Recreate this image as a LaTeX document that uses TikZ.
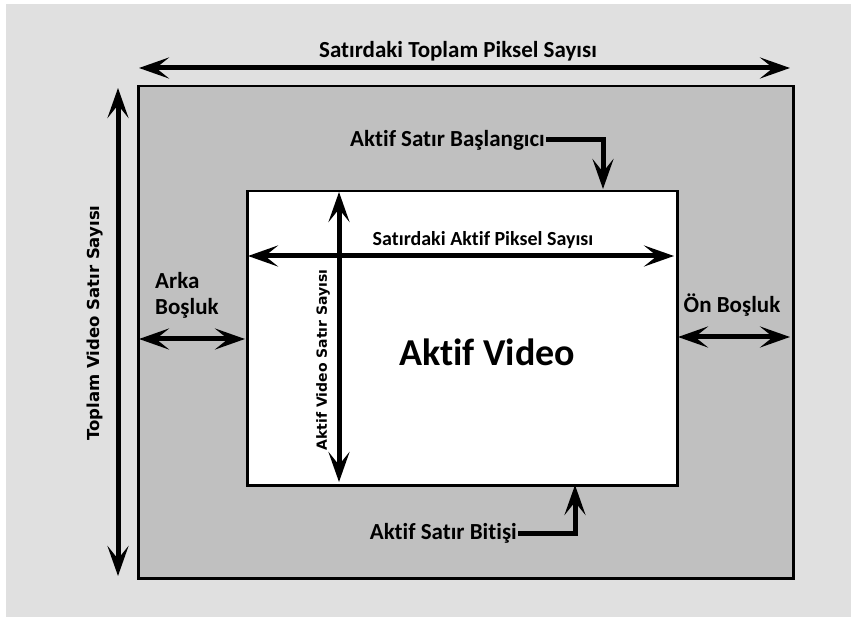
\documentclass[tikz,border=0pt]{standalone}
\usepackage{fontspec}
\setmainfont{Carlito}[Ligatures=NoCommon]
\newfontfamily\widefont{DejaVu Sans}
\usetikzlibrary{arrows.meta}
\definecolor{pagebg}{RGB}{224,224,224}
\definecolor{blankfill}{RGB}{192,192,192}
\begin{document}
\begin{tikzpicture}[x=1pt,y=-1pt,
  dimarrow/.style={line width=5pt,{Stealth[length=30pt,width=21pt,inset=13pt]}-{Stealth[length=30pt,width=21pt,inset=13pt]}},
  pointer/.style={line width=5pt,-{Stealth[length=30pt,width=21pt,inset=13pt]}},
  lbl/.style={font=\bfseries, inner sep=1pt},
  vlbl/.style={font=\widefont\bfseries, inner sep=1pt, rotate=90}]
  % page
  \fill[white] (0,0) rectangle (857,617);
  \fill[pagebg] (6,4) rectangle (851,617);
  \useasboundingbox (0,0) rectangle (857,617);
  % frame regions
  \node[draw, line width=2.5pt, fill=blankfill, minimum width=655pt, minimum height=492pt, inner sep=0pt, anchor=north west] (outer) at (137,85) {};
  \node[draw, line width=2.5pt, fill=white, minimum width=430pt, minimum height=294pt, inner sep=0pt, anchor=north west] (inner) at (246,190) {};
  % total pixels per line
  \coordinate (tl) at (139,68);
  \coordinate (tr) at (790,68);
  \draw[dimarrow] (tl) -- (tr);
  \node[lbl, font=\fontsize{23}{27}\bfseries] (totpix) at (458,51) {Satırdaki Toplam Piksel Sayısı};
  % total lines
  \coordinate (vt) at (118,88);
  \coordinate (vb) at (118,576);
  \draw[dimarrow] (vt) -- (vb);
  \node[vlbl, font=\fontsize{16.5}{19}\widefont\bfseries] (totlines) at (95,323) {Toplam Video Satır Sayısı};
  % active line start
  \node[lbl, font=\fontsize{23}{27}\bfseries, anchor=east] (start) at (546,140) {Aktif Satır Başlangıcı};
  \coordinate (startbend) at (603,140);
  \coordinate (starttip) at (603,189);
  \draw[pointer] (start.east) -- (startbend) -- (starttip);
  % active line end
  \node[lbl, font=\fontsize{23}{27}\bfseries, anchor=east] (stop) at (518,533) {Aktif Satır Bitişi};
  \coordinate (stopbend) at (575,533);
  \coordinate (stoptip) at (575,485);
  \draw[pointer] (stop.east) -- (stopbend) -- (stoptip);
  % active pixels per line
  \coordinate (al) at (248,256);
  \coordinate (ar) at (674,256);
  \draw[dimarrow] (al) -- (ar);
  \node[lbl, font=\fontsize{20}{24}\bfseries] (actpix) at (483,240) {Satırdaki Aktif Piksel Sayısı};
  % active lines
  \coordinate (avt) at (339,192);
  \coordinate (avb) at (339,482);
  \draw[dimarrow] (avt) -- (avb);
  \node[vlbl, font=\fontsize{14}{17}\widefont\bfseries] (actlines) at (323,360) {Aktif Video Satır Sayısı};
  % active video
  \node[lbl, font=\fontsize{38}{44}\bfseries] (video) at (487,352) {Aktif Video};
  % back porch
  \node[lbl, font=\fontsize{23}{26}\bfseries, align=left, anchor=west] (back) at (154,295) {Arka\\Boşluk};
  \coordinate (bl) at (139,339);
  \coordinate (br) at (245,339);
  \draw[dimarrow] (bl) -- (br);
  % front porch
  \node[lbl, font=\fontsize{23}{27}\bfseries] (front) at (732,305) {Ön Boşluk};
  \coordinate (fl) at (678,337);
  \coordinate (fr) at (790,337);
  \draw[dimarrow] (fl) -- (fr);
\end{tikzpicture}
\end{document}
